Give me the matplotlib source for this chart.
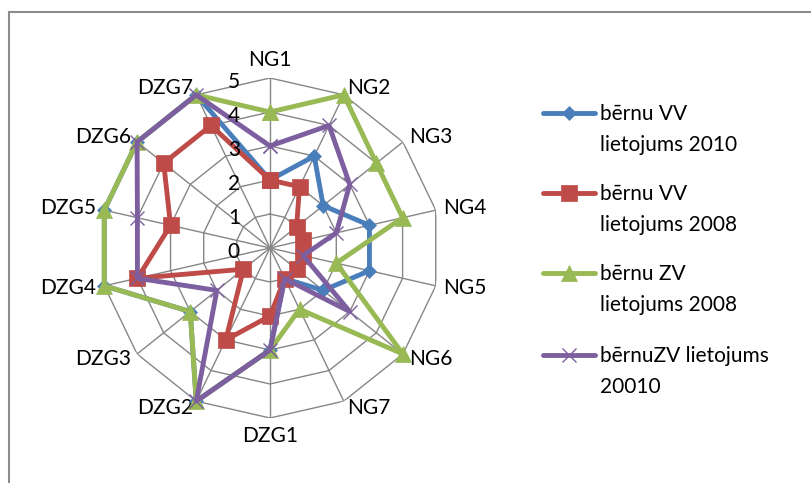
import numpy as np
import matplotlib
matplotlib.use('Agg')
import matplotlib.pyplot as plt
from matplotlib.lines import Line2D
from matplotlib.patches import Rectangle

plt.rcParams['font.family'] = ['Lato', 'DejaVu Sans']

# categories, clockwise from the top
categories = ['NG1', 'NG2', 'NG3', 'NG4', 'NG5', 'NG6', 'NG7',
              'DZG1', 'DZG2', 'DZG3', 'DZG4', 'DZG5', 'DZG6', 'DZG7']

vv_2010 = [2, 3, 2, 3, 3, 2, 1, 3, 5, 3, 5, 5, 5, 5]
vv_2008 = [2, 2, 1, 1, 1, 1, 1, 2, 3, 1, 4, 3, 4, 4]
zv_2008 = [4, 5, 4, 4, 2, 5, 2, 3, 5, 3, 5, 5, 5, 5]
zv_2010 = [3, 4, 3, 2, 1, 3, 1, 3, 5, 2, 4, 4, 5, 5]

series_labels = ['bērnu VV\nlietojums 2010', 'bērnu VV\nlietojums 2008',
                 'bērnu ZV\nlietojums 2008', 'bērnuZV lietojums\n20010']
radial_ticks = [0, 1, 2, 3, 4, 5]

colors = ['#4A7EBB', '#BE4B48', '#98B954', '#7D5FA0']
markers = ['D', 's', '^', 'x']
msizes = [7, 11, 12, 10]
FS = 15

W, H = 812, 483
fig = plt.figure(figsize=(W / 100, H / 100), dpi=100)

# thin gray frame (only top/left visible in the source)
fig.add_artist(Rectangle((9 / W, -0.05), 1.2, (H - 12) / H + 0.05, transform=fig.transFigure,
                         fill=False, edgecolor='#8C8C8C', linewidth=1.5))

cx, cy, R = 270, H - 248, 170
ax = fig.add_axes([(cx - R) / W, (cy - R) / H, 2 * R / W, 2 * R / H], projection='polar')
ax.set_theta_offset(np.pi / 2)
ax.set_theta_direction(-1)
ax.set_ylim(0, 5)
ax.grid(False)
ax.spines['polar'].set_visible(False)
ax.set_xticks([])
ax.set_yticks([])
ax.patch.set_alpha(0)

n = len(categories)
theta = np.linspace(0, 2 * np.pi, n, endpoint=False)
theta_c = np.append(theta, theta[0])

# polygon grid
for r in radial_ticks[1:]:
    ax.plot(theta_c, [r] * (n + 1), color='#868686', lw=1, zorder=1)
for t in theta:
    ax.plot([t, t], [0, 5], color='#868686', lw=1, zorder=1)

for v in radial_ticks:
    ax.annotate(str(v), xy=(0, v), xytext=(-30, -4), textcoords='offset pixels',
                ha='right', va='center', fontsize=FS, annotation_clip=False, zorder=6)

# category labels sit just outside each vertex, aligned away from it
for t, c in zip(theta, categories):
    s, co = np.sin(t), np.cos(t)
    ha = 'left' if s > 0.1 else ('right' if s < -0.1 else 'center')
    va = 'bottom' if co > 0.95 else ('top' if co < -0.95 else 'center')
    ax.annotate(c, xy=(t, 5), xytext=(8 * s, 8 * co), textcoords='offset pixels',
                ha=ha, va=va, fontsize=FS, annotation_clip=False)

all_series = [vv_2010, vv_2008, zv_2008, zv_2010]
for vals, col, mk, ms in zip(all_series, colors, markers, msizes):
    v = list(vals) + [vals[0]]
    ax.plot(theta_c, v, color=col, lw=3.5, marker=mk, markersize=ms,
            markeredgewidth=1 if mk == 'x' else 0.5, markeredgecolor=col, zorder=3,
            clip_on=False)

# legend drawn by hand: handle aligned with the first text line
leg_y = [113, 193, 273, 355]
for y, lab, col, mk, ms in zip(leg_y, series_labels, colors, markers, msizes):
    yf = 1 - y / H
    fig.add_artist(Line2D([543 / W, 595 / W], [yf, yf], transform=fig.transFigure,
                          color=col, lw=3.5, solid_capstyle='round'))
    fig.add_artist(Line2D([569 / W], [yf], transform=fig.transFigure, color=col,
                          marker=mk, markersize=ms, markeredgecolor=col,
                          markeredgewidth=1 if mk == 'x' else 0.5))
    for i, line in enumerate(lab.split('\n')):
        fig.text(600 / W, 1 - (y + 1 + 31 * i) / H, line, ha='left', va='center', fontsize=FS)

fig.savefig('out.png', dpi=100)
